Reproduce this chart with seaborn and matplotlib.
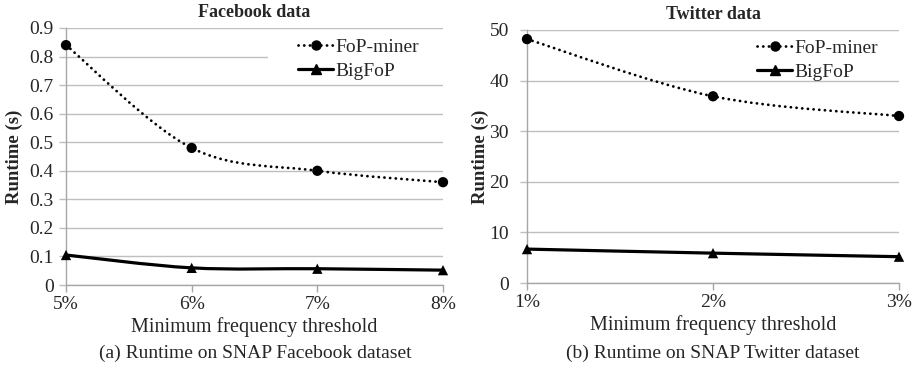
import numpy as np
import pandas as pd
import matplotlib
matplotlib.use("Agg")
import matplotlib.pyplot as plt
import seaborn as sns
from matplotlib.path import Path
from matplotlib.patches import PathPatch, Rectangle
from matplotlib.lines import Line2D

# ---- data ----
fb_thresholds = ["5%", "6%", "7%", "8%"]
fb_fop_miner = [0.84, 0.48, 0.40, 0.36]
fb_bigfop = [0.105, 0.060, 0.057, 0.052]
fb_yticks = [0, 0.1, 0.2, 0.3, 0.4, 0.5, 0.6, 0.7, 0.8, 0.9]
fb_yticklabels = ["0", "0.1", "0.2", "0.3", "0.4", "0.5", "0.6", "0.7", "0.8", "0.9"]

tw_thresholds = ["1%", "2%", "3%"]
tw_fop_miner = [48.2, 36.9, 33.0]
tw_bigfop = [6.7, 5.9, 5.2]
tw_yticks = [0, 10, 20, 30, 40, 50]
tw_yticklabels = ["0", "10", "20", "30", "40", "50"]

sns.set_theme(style="white")
plt.rcParams['font.family'] = ['Liberation Serif', 'DejaVu Serif']

GRID = "#bfbfbf"
SPINE = "#a6a6a6"
DOT = (0, (0.05, 2.0))


def smooth_path(xs, ys):
    """Smoothed (Catmull-Rom style Bezier) path through the data points."""
    p = np.column_stack([xs, ys]).astype(float)
    n = len(p)
    verts = [p[0]]
    codes = [Path.MOVETO]
    for i in range(n - 1):
        p0 = p[i - 1] if i > 0 else p[i]
        p3 = p[i + 2] if i + 2 < n else p[i + 1]
        c1 = p[i] + (p[i + 1] - p0) / 6.0
        c2 = p[i + 1] - (p3 - p[i]) / 6.0
        verts += [c1, c2, p[i + 1]]
        codes += [Path.CURVE4] * 3
    return Path(verts, codes)


def draw(ax, cats, fop, big, yticks, yticklabels, title, legend_anchor, cover, ypad, ylabel_x):
    pos = list(range(len(cats)))
    df = pd.DataFrame({
        "pos": pos * 2,
        "runtime": list(fop) + list(big),
        "method": ["FoP-miner"] * len(cats) + ["BigFoP"] * len(cats),
    })
    # smoothed lines
    ax.add_patch(PathPatch(smooth_path(pos, fop), facecolor="none", edgecolor="black",
                           lw=2.0, linestyle=DOT, capstyle="round", zorder=3, clip_on=False))
    ax.add_patch(PathPatch(smooth_path(pos, big), facecolor="none", edgecolor="black",
                           lw=2.3, zorder=3, clip_on=False))
    # markers
    sns.scatterplot(data=df, x="pos", y="runtime", style="method",
                    markers={"FoP-miner": "o", "BigFoP": "^"},
                    color="black", s=55, edgecolor="black", linewidth=0,
                    legend=False, ax=ax, zorder=4, clip_on=False)

    ax.set_xlim(pos[0], pos[-1])
    ax.set_ylim(yticks[0], yticks[-1])
    ax.set_xticks(pos)
    ax.set_xticklabels(cats)
    ax.set_yticks(yticks)
    ax.set_yticklabels(yticklabels)
    ax.grid(axis="y", color=GRID, lw=1.0)
    ax.grid(axis="x", visible=False)
    ax.set_axisbelow(True)
    for s in ["top", "right"]:
        ax.spines[s].set_visible(False)
    for s in ["left", "bottom"]:
        ax.spines[s].set_color(SPINE)
        ax.spines[s].set_linewidth(1.0)
    ax.tick_params(axis="x", length=5, width=1, color=SPINE, labelsize=14, pad=3, bottom=True)
    ax.tick_params(axis="y", length=5, width=1, color=GRID, labelsize=14, pad=ypad, left=True)
    ax.set_xlabel("Minimum frequency threshold", fontsize=14.5, labelpad=3)
    ax.set_ylabel("Runtime (s)", fontsize=13.5, fontweight="bold")
    ax.yaxis.set_label_coords(ylabel_x, 0.5)
    ax.set_title(title, fontsize=13, fontweight="bold", pad=8)

    if cover is not None:
        ax.add_patch(Rectangle((cover[0], cover[1]), cover[2], cover[3], transform=ax.transAxes,
                               facecolor="white", edgecolor="none", zorder=1.5, clip_on=False))

    handles = [
        Line2D([], [], color="black", lw=2.0, linestyle=DOT, dash_capstyle="round",
               marker="o", markersize=6.5),
        Line2D([], [], color="black", lw=2.3, marker="^", markersize=6.5),
    ]
    ax.legend(handles, ["FoP-miner", "BigFoP"], loc="upper left",
              bbox_to_anchor=legend_anchor, borderaxespad=0, borderpad=0.0,
              handlelength=1.8, handletextpad=0.1, labelspacing=0.35,
              fontsize=14, numpoints=1, frameon=False)


fig = plt.figure(figsize=(9.22, 3.71), dpi=100)
ax1 = fig.add_axes([66 / 922, 1 - 285 / 371, (443 - 66) / 922, (285 - 28) / 371])
ax2 = fig.add_axes([527 / 922, 1 - 283 / 371, (899 - 527) / 922, (283 - 30) / 371])

fb_cover = ((268 - 66) / 377, (285 - 78) / 257, (445 - 268) / 377, (78 - 33) / 257)
draw(ax1, fb_thresholds, fb_fop_miner, fb_bigfop, fb_yticks, fb_yticklabels,
     "Facebook data", ((298 - 66) / 377, (285 - 38) / 257), fb_cover, 4, (23 - 66) / 377)
draw(ax2, tw_thresholds, tw_fop_miner, tw_bigfop, tw_yticks, tw_yticklabels,
     "Twitter data", ((757 - 527) / 372, (283 - 39) / 253), None, 8, (489 - 527) / 372)

fig.text(255 / 922, 1 - 353 / 371, "(a) Runtime on SNAP Facebook dataset", ha="center", va="center", fontsize=14)
fig.text(713 / 922, 1 - 353 / 371, "(b) Runtime on SNAP Twitter dataset", ha="center", va="center", fontsize=14)

fig.savefig("out.png", dpi=100)
